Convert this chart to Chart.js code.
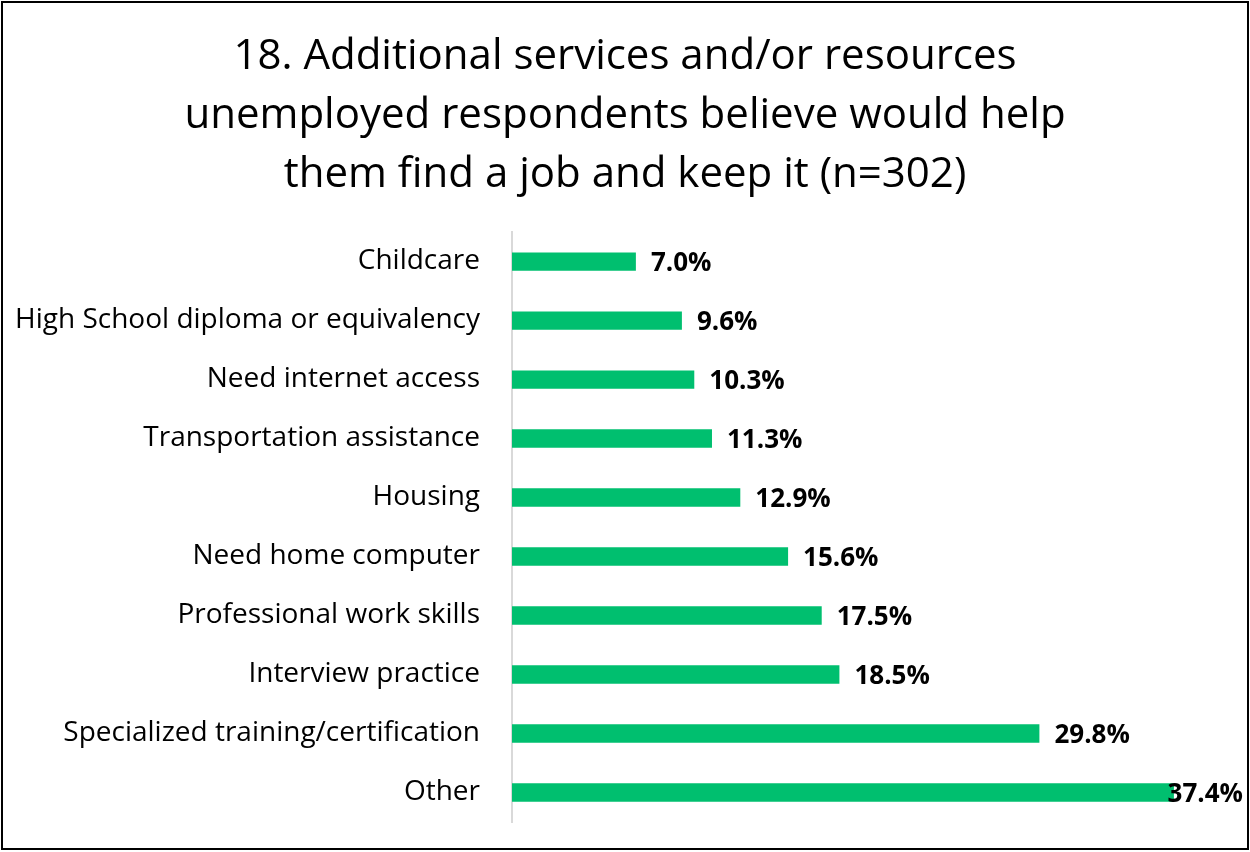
<!DOCTYPE html>
<html>
<head>
<meta charset="utf-8">
<script src="https://cdn.jsdelivr.net/npm/chart.js@4"></script>
<style>
  html, body { margin: 0; padding: 0; background: #fff; }
  #wrap { width: 1250px; height: 852px; position: relative; }
</style>
</head>
<body>
<div id="wrap"><canvas id="myChart" width="1250" height="852"></canvas></div>
<script>
const tituloLinhas = [
  "18. Additional services and/or resources",
  "unemployed respondents believe would help",
  "them find a job and keep it (n=302)"
];
const categorias = [
  "Childcare",
  "High School diploma or equivalency",
  "Need internet access",
  "Transportation assistance",
  "Housing",
  "Need home computer",
  "Professional work skills",
  "Interview practice",
  "Specialized training/certification",
  "Other"
];
const percentuais = [7.0, 9.6, 10.3, 11.3, 12.9, 15.6, 17.5, 18.5, 29.8, 37.4];

const FONTE = "'Open Sans', Lato, sans-serif";

// rotulos de valor a direita das barras, presos dentro da moldura
const rotulosPlugin = {
  id: "rotulos",
  afterDatasetsDraw(chart) {
    const ctx = chart.ctx;
    const meta = chart.getDatasetMeta(0);
    ctx.save();
    ctx.font = "bold 26px " + FONTE;
    ctx.fillStyle = "#000";
    ctx.textBaseline = "middle";
    meta.data.forEach((bar, i) => {
      const txt = percentuais[i].toFixed(1) + "%";
      const w = ctx.measureText(txt).width;
      let x = bar.x + 15;
      const limite = 1243 - w;
      if (x > limite) x = limite;
      ctx.fillText(txt, x, bar.y + 2);
    });
    ctx.restore();
  }
};

// moldura preta em volta do grafico
const molduraPlugin = {
  id: "moldura",
  afterDraw(chart) {
    const ctx = chart.ctx;
    ctx.save();
    ctx.strokeStyle = "#000";
    ctx.lineWidth = 2;
    ctx.strokeRect(2, 2, 1246, 847);
    ctx.restore();
  }
};

let myChart;
document.addEventListener("DOMContentLoaded", () => {
  const ctx = document.getElementById("myChart").getContext("2d");
  myChart = new Chart(ctx, {
    type: "bar",
    data: {
      labels: categorias,
      datasets: [
        {
          data: percentuais,
          backgroundColor: "#00bf6f",
          borderWidth: 0,
          barPercentage: 1,
          categoryPercentage: 0.31,
        },
      ],
    },
    options: {
      indexAxis: "y",
      responsive: false,
      animation: false,
      layout: {
        autoPadding: false,
        padding: { top: 14, right: 0, bottom: 30, left: 0 },
      },
      plugins: {
        legend: { display: false },
        tooltip: { enabled: false },
        title: {
          display: true,
          text: tituloLinhas,
          color: "#000",
          font: { family: FONTE, size: 42, weight: "normal", lineHeight: 1.405 },
          padding: { top: 14, bottom: 27 },
        },
      },
      scales: {
        x: {
          display: false,
          min: 0,
          max: 41.7,
        },
        y: {
          grid: { display: false },
          border: { display: true, color: "#d9d9d9", width: 2 },
          afterFit(scale) {
            // largura fixa da coluna de nomes, sem folga extra embaixo
            scale.width = 512;
            scale.paddingTop = 0;
            scale.paddingBottom = 0;
          },
          ticks: {
            color: "#000",
            padding: 24,
            font: { family: FONTE, size: 28 },
          },
        },
      },
    },
    plugins: [rotulosPlugin, molduraPlugin],
  });
});
</script>
</body>
</html>
